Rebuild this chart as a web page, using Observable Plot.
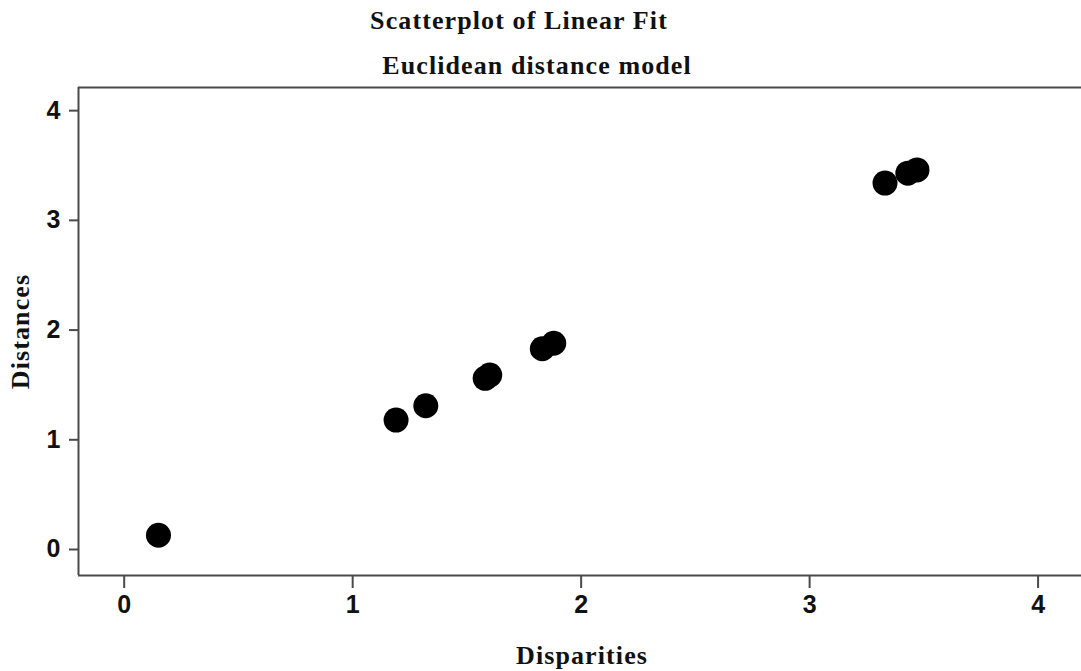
<!DOCTYPE html>
<html>
<head>
<meta charset="utf-8">
<script src="https://cdn.jsdelivr.net/npm/d3@7"></script>
<script src="https://cdn.jsdelivr.net/npm/@observablehq/plot@0.6"></script>
<style>
  html, body { margin: 0; padding: 0; background: #fff; }
  #chart svg { display: block; }
  #chart .label-text text { letter-spacing: 1.1px; }
</style>
</head>
<body>
<div id="chart"></div>
<script>
// Disparities vs. fitted distances (Euclidean distance model)
const disparities = [0.15, 1.19, 1.32, 1.58, 1.60, 1.83, 1.88, 3.33, 3.43, 3.47];
const distances   = [0.13, 1.18, 1.31, 1.56, 1.59, 1.83, 1.88, 3.34, 3.43, 3.46];
const tickValues  = [0, 1, 2, 3, 4];
const title    = "Scatterplot of Linear Fit";
const subtitle = "Euclidean distance model";
const xLabel   = "Disparities";
const yLabel   = "Distances";

const xDomain = [-0.2, 4.19];
const yDomain = [-0.237, 4.211];

const points = disparities.map((d, i) => ({disparity: d, distance: distances[i]}));

const serif = "'Liberation Serif', 'Times New Roman', serif";
const sans  = "'Liberation Sans', Arial, sans-serif";
const axisColor = "#4a4a4a";
const labelStyle = {
  fontSize: 26, fontWeight: "bold", fontFamily: serif, fill: "#111",
  text: d => d, className: "label-text"
};

const chart = Plot.plot({
  width: 1081,
  height: 671,
  marginLeft: 78,
  marginRight: 0,
  marginTop: 87,
  marginBottom: 96,
  x: {domain: xDomain},
  y: {domain: yDomain},
  style: {background: "#fff", overflow: "visible"},
  marks: [
    // plot frame: left, bottom and top edges
    Plot.ruleX([xDomain[0]], {stroke: axisColor, strokeWidth: 2}),
    Plot.ruleY(yDomain, {stroke: axisColor, strokeWidth: 2}),
    Plot.axisX({
      ticks: tickValues, tickFormat: "d", tickSize: 13, tickPadding: 7, stroke: axisColor, strokeWidth: 2,
      fontSize: 25, fontFamily: sans, fontWeight: "bold", fill: "#111", label: null
    }),
    Plot.axisY({
      ticks: tickValues, tickFormat: "d", tickSize: 9, tickPadding: 9, stroke: axisColor, strokeWidth: 2,
      fontSize: 25, fontFamily: sans, fontWeight: "bold", fill: "#111", label: null
    }),
    Plot.dot(points, {x: "disparity", y: "distance", r: 12.5, fill: "#000", stroke: "none"}),
    // titles and axis labels
    Plot.text([title], {...labelStyle, frameAnchor: "top", lineAnchor: "middle", dy: -67, dx: -61}),
    Plot.text([subtitle], {...labelStyle, frameAnchor: "top", lineAnchor: "middle", dy: -22, dx: -43}),
    Plot.text([xLabel], {...labelStyle, frameAnchor: "bottom", lineAnchor: "middle", textAnchor: "middle", dy: 80, dx: 2}),
    Plot.text([yLabel], {...labelStyle, frameAnchor: "left", lineAnchor: "middle", textAnchor: "middle", dx: -58, rotate: -90})
  ]
});
document.getElementById("chart").appendChild(chart);
</script>
</body>
</html>
